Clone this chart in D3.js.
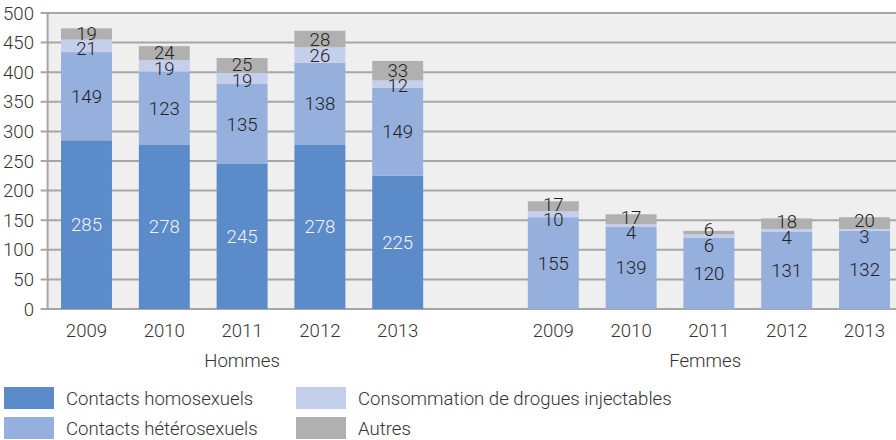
<!DOCTYPE html>
<html><head><meta charset="utf-8">
<script src="https://cdn.jsdelivr.net/npm/d3@7"></script>
<style>
html,body{margin:0;padding:0;background:#fff;}
svg{display:block;}
text{font-family:Roboto,"Noto Sans",sans-serif;font-weight:300;}
</style></head>
<body>
<svg id="c" width="896" height="440"></svg>
<script>
const groups = ["Hommes", "Femmes"];
const years = ["2009", "2010", "2011", "2012", "2013"];
const seriesNames = ["Contacts homosexuels", "Contacts hétérosexuels", "Consommation de drogues injectables", "Autres"];
const seriesColors = ["#5b8bc8", "#95b0dc", "#c4cfec", "#b0b0b0"];
const hommesHomo = [285, 278, 245, 278, 225];
const hommesHetero = [149, 123, 135, 138, 149];
const hommesDrogues = [21, 19, 19, 26, 12];
const hommesAutres = [19, 24, 25, 28, 33];
const femmesHomo = [0, 0, 0, 0, 0];
const femmesHetero = [155, 139, 120, 131, 132];
const femmesDrogues = [10, 4, 6, 4, 3];
const femmesAutres = [17, 17, 6, 18, 20];
const yTicks = [0, 50, 100, 150, 200, 250, 300, 350, 400, 450, 500];

const W = 896, H = 440;
const FS = 18.6;
const svg = d3.select("#c");
const plotBg = "#efefef", gridC = "#a6a6a6", txtC = "#333";

const rows = [];
years.forEach((y, i) => rows.push({key: "H" + y, group: 0, year: y, vals: [hommesHomo[i], hommesHetero[i], hommesDrogues[i], hommesAutres[i]]}));
rows.push({key: "gap", group: -1, year: "", vals: [0, 0, 0, 0]});
years.forEach((y, i) => rows.push({key: "F" + y, group: 1, year: y, vals: [femmesHomo[i], femmesHetero[i], femmesDrogues[i], femmesAutres[i]]}));

const x = d3.scaleBand().domain(rows.map(r => r.key)).range([47.6, 903.4]).paddingInner(0.345).paddingOuter(0.1725);
const y = d3.scaleLinear().domain([0, 500]).range([309, 13]);
const left = 47.6, right = W;

svg.append("rect").attr("x", left).attr("y", y(500)).attr("width", right - left).attr("height", y(0) - y(500)).attr("fill", plotBg);

svg.append("g").selectAll("line").data(yTicks).join("line")
  .attr("x1", left - 7).attr("x2", right)
  .attr("y1", d => y(d)).attr("y2", d => y(d))
  .attr("stroke", gridC).attr("stroke-width", 2);
svg.append("line").attr("x1", left).attr("x2", left).attr("y1", y(500) - 1).attr("y2", y(0) + 1).attr("stroke", gridC).attr("stroke-width", 2);

svg.append("g").selectAll("text").data(yTicks).join("text")
  .attr("x", 34).attr("y", d => y(d)).attr("dy", "0.35em")
  .attr("text-anchor", "end").attr("font-size", FS).attr("fill", txtC).text(d => d);

const stack = d3.stack().keys([0, 1, 2, 3]).value((r, k) => r.vals[k]);
const series = stack(rows);

const labels = [];
rows.forEach((r, ri) => {
  if (r.group < 0) return;
  const cx = x(r.key) + x.bandwidth() / 2;
  const top = y(d3.sum(r.vals));
  const items = [];
  for (let k = 3; k >= 0; k--) {
    const v = r.vals[k];
    if (v <= 0) continue;
    const seg = series[k][ri];
    items.push({k, v, cx, cy: (y(seg[0]) + y(seg[1])) / 2, barTop: top});
  }
  const S = 15.5;
  for (let i = 1; i < items.length; i++) {
    const a = items[i - 1], b = items[i];
    const gap = b.cy - a.cy;
    if (gap < S) { const d = S - gap; a.cy -= 0.25 * d; b.cy += 0.75 * d; }
  }
  items.forEach(it => labels.push(it));
});

const bgG = svg.append("g");
svg.append("g").selectAll("g").data(series).join("g")
  .attr("fill", (d, i) => seriesColors[i])
  .selectAll("rect").data(d => d.map((s, i) => ({s, r: rows[i]})).filter(o => o.r.group >= 0 && o.s[1] > o.s[0])).join("rect")
  .attr("x", o => x(o.r.key)).attr("width", x.bandwidth())
  .attr("y", o => y(o.s[1])).attr("height", o => y(o.s[0]) - y(o.s[1]));

const lblG = svg.append("g");
labels.forEach(l => {
  const t = lblG.append("text").attr("x", l.cx).attr("y", l.cy).attr("dy", "0.35em")
    .attr("text-anchor", "middle").attr("font-size", FS)
    .attr("fill", l.k === 0 ? "#f4f4f4" : "#222").text(l.v);
  const w = t.node().getComputedTextLength();
  const bt = l.cy - 7.5;
  if (bt < l.barTop) {
    bgG.append("rect").attr("x", l.cx - w / 2 - 2).attr("width", w + 4)
      .attr("y", bt).attr("height", Math.min(l.barTop, l.cy + 8) - bt).attr("fill", plotBg);
  }
});

svg.append("g").selectAll("text").data(rows.filter(r => r.group >= 0)).join("text")
  .attr("x", r => x(r.key) + x.bandwidth() / 2).attr("y", 330.7).attr("dy", "0.35em")
  .attr("text-anchor", "middle").attr("font-size", FS).attr("fill", txtC).text(r => r.year);

groups.forEach((g, gi) => {
  const rs = rows.filter(r => r.group === gi);
  const x0 = Math.max(left, x(rs[0].key) - x.step() * x.paddingInner() / 2);
  const x1 = Math.min(W, x(rs[rs.length - 1].key) + x.bandwidth() + x.step() * x.paddingInner() / 2);
  svg.append("text").attr("x", (x0 + x1) / 2).attr("y", 360.7).attr("dy", "0.35em")
    .attr("text-anchor", "middle").attr("font-size", FS).attr("fill", txtC).text(g);
});

const legPos = [[4, 398], [4, 428], [296, 398], [296, 428]];
seriesNames.forEach((n, i) => {
  const [lx, ly] = legPos[i];
  svg.append("rect").attr("x", lx).attr("y", ly - 11).attr("width", 50).attr("height", 22).attr("fill", seriesColors[i]);
  svg.append("text").attr("x", lx + 62).attr("y", ly).attr("dy", "0.35em")
    .attr("font-size", FS).attr("fill", txtC).text(n);
});
</script>
</body></html>
